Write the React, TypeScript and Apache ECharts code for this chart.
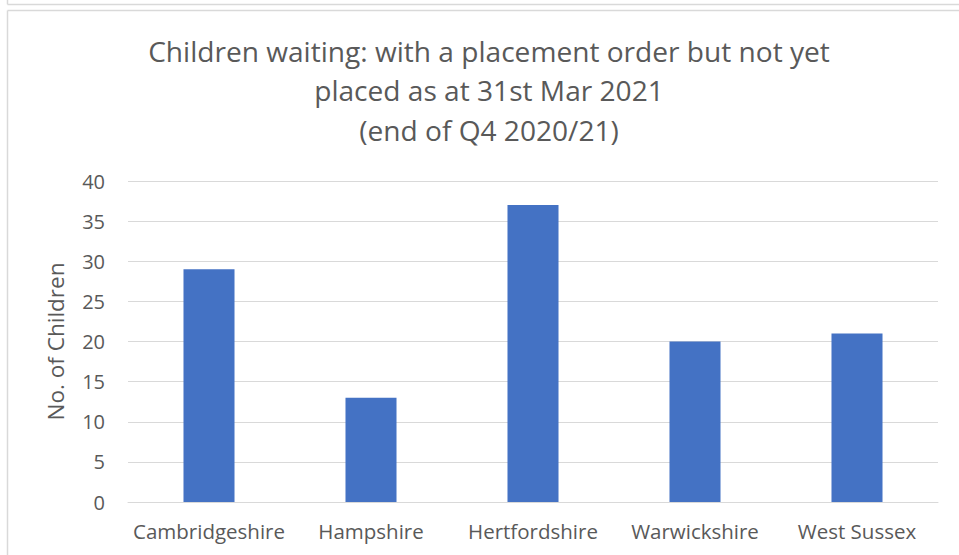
import React, { useEffect, useRef } from "react";
import * as echarts from "echarts";

const categories = ["Cambridgeshire", "Hampshire", "Hertfordshire", "Warwickshire", "West Sussex"];
const values = [29, 13, 37, 20, 21];
const titleLines = [
  "Children waiting: with a placement order but not yet",
  "placed as at 31st Mar 2021",
  "(end of Q4 2020/21)",
];
const yAxisName = "No. of Children";

const FONT = "'Open Sans', sans-serif";
const GRAY = "#595959";

export default function App() {
  const ref = useRef<HTMLDivElement>(null);
  useEffect(() => {
    if (!ref.current) return;
    const chart = echarts.init(ref.current, null, { renderer: "svg" });
    chart.setOption({
      animation: false,
      backgroundColor: "#ffffff",
      title: {
        text: titleLines.join("\n"),
        left: 484,
        top: 26,
        textAlign: "center",
        textStyle: {
          fontFamily: FONT,
          fontSize: 28.1,
          fontWeight: "normal",
          color: GRAY,
          lineHeight: 39.5,
        },
      },
      grid: { left: 128, right: 21, top: 181, bottom: 53, containLabel: false },
      xAxis: {
        type: "category",
        data: categories,
        axisLine: { lineStyle: { color: "#d9d9d9", width: 1 } },
        axisTick: { show: false },
        axisLabel: { color: GRAY, fontFamily: FONT, fontSize: 20.5, margin: 18, interval: 0 },
      },
      yAxis: {
        type: "value",
        min: 0,
        max: 40,
        interval: 5,
        name: yAxisName,
        nameLocation: "middle",
        nameGap: 61,
        nameTextStyle: { color: GRAY, fontFamily: FONT, fontSize: 22.5 },
        axisLine: { show: false },
        axisTick: { show: false },
        splitLine: { lineStyle: { color: "#d9d9d9", width: 1 } },
        axisLabel: { color: GRAY, fontFamily: FONT, fontSize: 20, margin: 23 },
      },
      series: [
        {
          type: "bar",
          data: values,
          barWidth: "31.5%",
          itemStyle: { color: "#4472c4" },
        },
      ],
      graphic: [
        { type: "line", shape: { x1: 7.5, y1: 0, x2: 7.5, y2: 4.5 }, style: { stroke: "#d9d9d9", lineWidth: 1.5 } },
        { type: "line", shape: { x1: 7.5, y1: 4.5, x2: 959, y2: 4.5 }, style: { stroke: "#d9d9d9", lineWidth: 1.5 } },
        { type: "line", shape: { x1: 7.5, y1: 10.5, x2: 959, y2: 10.5 }, style: { stroke: "#d9d9d9", lineWidth: 1.5 } },
        { type: "line", shape: { x1: 7.5, y1: 10.5, x2: 7.5, y2: 555 }, style: { stroke: "#d9d9d9", lineWidth: 1.5 } },
      ],
    });
    return () => chart.dispose();
  }, []);
  return (
    <div
      ref={ref}
      style={{ position: "absolute", left: 0, top: 0, width: 959, height: 555 }}
    />
  );
}
